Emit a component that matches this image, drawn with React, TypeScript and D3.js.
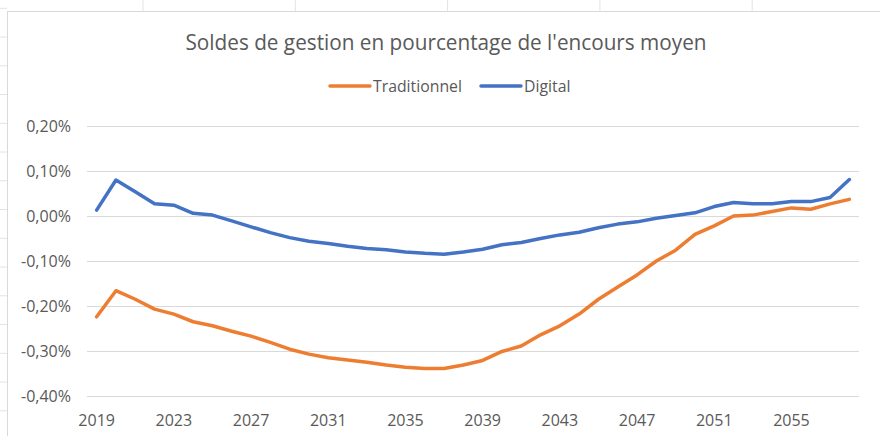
import React from "react";
import * as d3 from "d3";

const years: number[] = d3.range(2019, 2059);
const traditionnel: number[] = [
  -0.224, -0.166, -0.185, -0.207, -0.218, -0.235, -0.244, -0.256, -0.267, -0.281,
  -0.296, -0.307, -0.315, -0.320, -0.325, -0.331, -0.336, -0.339, -0.339, -0.331,
  -0.321, -0.301, -0.289, -0.264, -0.244, -0.218, -0.185, -0.158, -0.131, -0.100,
  -0.076, -0.041, -0.022, 0.000, 0.002, 0.010, 0.018, 0.015, 0.027, 0.037,
];
const digital: number[] = [
  0.013, 0.080, 0.054, 0.027, 0.024, 0.006, 0.002, -0.011, -0.024, -0.037,
  -0.048, -0.056, -0.061, -0.067, -0.072, -0.075, -0.080, -0.083, -0.085, -0.080,
  -0.074, -0.064, -0.059, -0.050, -0.042, -0.036, -0.026, -0.018, -0.013, -0.005,
  0.001, 0.007, 0.021, 0.030, 0.027, 0.027, 0.032, 0.032, 0.041, 0.081,
];
const yTicks: number[] = [0.2, 0.1, 0, -0.1, -0.2, -0.3, -0.4];
const xTickYears: number[] = [2019, 2023, 2027, 2031, 2035, 2039, 2043, 2047, 2051, 2055];
const seriesNames: string[] = ["Traditionnel", "Digital"];
const seriesColors: string[] = ["#ED7D31", "#4472C4"];
const title = "Soldes de gestion en pourcentage de l'encours moyen";

const W = 880;
const H = 436;
const FONT = "'Open Sans', 'DejaVu Sans', sans-serif";
const TXT = "#595959";

export default function App() {
  const x = d3.scaleBand<number>().domain(years).range([87, 859]).padding(0);
  const cx = (yr: number) => (x(yr) ?? 0) + x.bandwidth() / 2;
  const y = d3.scaleLinear().domain([-0.4, 0.2]).range([396, 126]);
  const line = d3
    .line<number>()
    .x((_, i) => cx(years[i]))
    .y((d) => y(d));
  const fmt = (v: number) => (v.toFixed(2) + "%").replace(".", ",");
  const series = [traditionnel, digital];

  const sheetCols = d3.range(143, W, 152.3);
  const sheetRows = d3.range(8.3, H, 28.75);

  return (
    <svg
      width={W}
      height={H}
      style={{ position: "absolute", left: 0, top: 0, background: "#fff" }}
      fontFamily={FONT}
    >
      <rect x={0} y={0} width={W} height={H} fill="#fff" />
      {sheetCols.map((c, i) => (
        <line key={"c" + i} x1={c} x2={c} y1={0} y2={11} stroke="#e3e3e3" strokeWidth={1} />
      ))}
      {sheetRows.map((r, i) => (
        <line key={"r" + i} x1={0} x2={7} y1={r} y2={r} stroke="#e3e3e3" strokeWidth={1} />
      ))}
      <rect x={7.5} y={11.5} width={W} height={H} fill="#fff" stroke="#d9d9d9" strokeWidth={1} />

      <text
        x={446}
        y={50}
        textAnchor="middle"
        fontSize={21}
        fill={TXT}
        textLength={521}
        lengthAdjust="spacingAndGlyphs"
      >
        {title}
      </text>

      {/* legend */}
      {seriesNames.map((name, i) => {
        const lx = [330, 481][i];
        return (
          <g key={name}>
            <line x1={lx} x2={lx + 40} y1={86} y2={86} stroke={seriesColors[i]} strokeWidth={3.5} strokeLinecap="round" />
            <text x={lx + 43} y={91.5} fontSize={15.8} fill={TXT}>
              {name}
            </text>
          </g>
        );
      })}

      {yTicks.map((t) => (
        <g key={t}>
          <line x1={87} x2={859} y1={Math.round(y(t)) + 0.5} y2={Math.round(y(t)) + 0.5} stroke="#d9d9d9" strokeWidth={1} />
          <text x={71} y={y(t)} dy="0.36em" textAnchor="end" fontSize={16} fill={TXT}>
            {fmt(t)}
          </text>
        </g>
      ))}

      {xTickYears.map((yr) => (
        <text key={yr} x={cx(yr)} y={425.5} textAnchor="middle" fontSize={16} fill={TXT}>
          {yr}
        </text>
      ))}

      {series.map((s, i) => (
        <path
          key={i}
          d={line(s) ?? ""}
          fill="none"
          stroke={seriesColors[i]}
          strokeWidth={3.5}
          strokeLinejoin="round"
          strokeLinecap="round"
        />
      ))}
    </svg>
  );
}
